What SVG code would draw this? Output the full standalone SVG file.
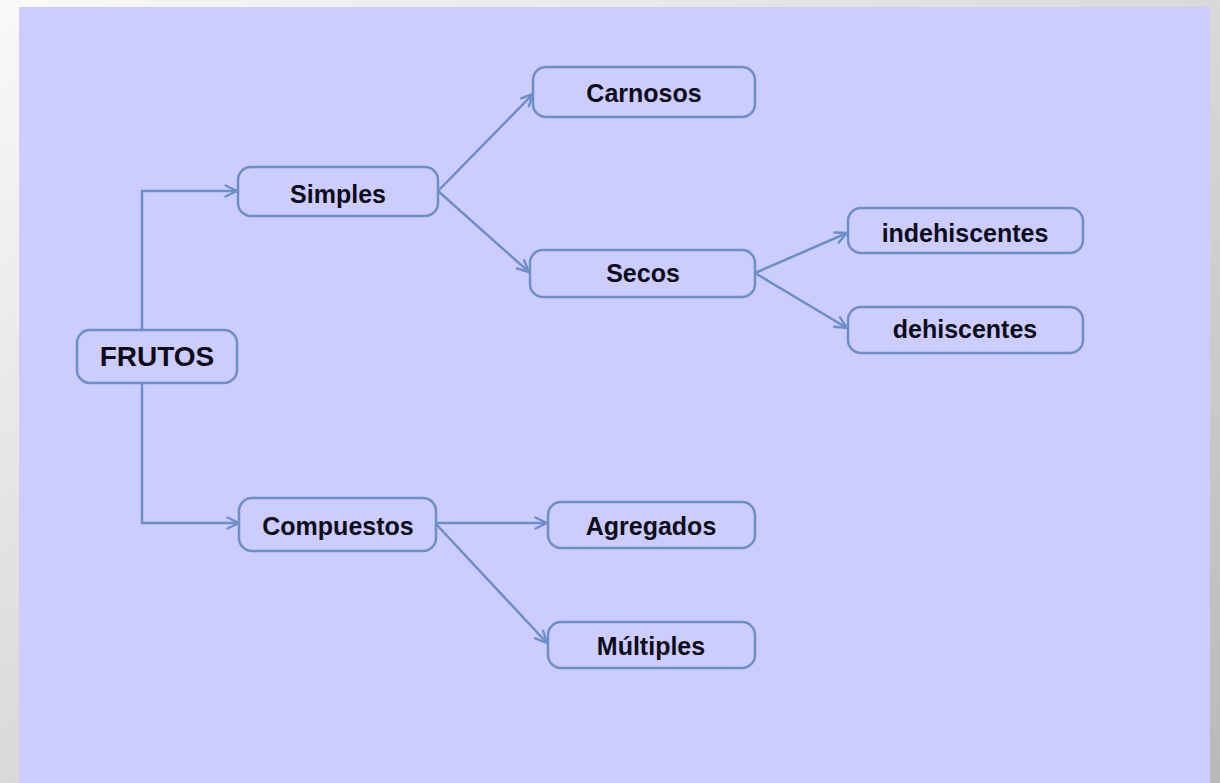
<svg xmlns="http://www.w3.org/2000/svg" width="1220" height="783" viewBox="0 0 1220 783">
  <defs>
    <linearGradient id="bg" x1="0" y1="0" x2="1" y2="1">
      <stop offset="0" stop-color="#f9f9f9"/>
      <stop offset="1" stop-color="#b9b9b9"/>
    </linearGradient>
    <marker id="arr" viewBox="0 0 14 14" refX="13" refY="7" markerWidth="14" markerHeight="14" markerUnits="userSpaceOnUse" orient="auto">
      <path d="M1.5,1.5 L13,7 L1.5,12.5" fill="none" stroke="#6c8fc8" stroke-width="2.4" stroke-linecap="round" stroke-linejoin="round"/>
    </marker>
    <style>
      .box { fill: #ccccff; stroke: #6c8fc8; stroke-width: 2.5; }
      .lbl { font-family: "Liberation Sans", Arial, sans-serif; font-weight: bold; font-size: 25px; fill: #0d0d1a; text-anchor: middle; }
      .big { font-size: 28px; }
      .con { fill: none; stroke: #6c8fc8; stroke-width: 2.5; marker-end: url(#arr); }
    </style>
  </defs>
  <rect x="0" y="0" width="1220" height="783" fill="url(#bg)"/>
  <rect x="19" y="7" width="1191" height="776" fill="#ccccff"/>

  <g id="connectors">
    <path class="con" d="M142,329 L142,191 L237,191"/>
    <path class="con" d="M142,383 L142,523 L239,523"/>
    <path class="con" d="M438,191 L533,94"/>
    <path class="con" d="M438,191 L529,272"/>
    <path class="con" d="M755,273 L847,233"/>
    <path class="con" d="M755,273 L847,328"/>
    <path class="con" d="M436,523 L547,523"/>
    <path class="con" d="M436,524 L547,643"/>
  </g>

  <g id="frutos">
    <rect class="box" x="77" y="330" width="160" height="53" rx="13"/>
    <text class="lbl big" x="157" y="366">FRUTOS</text>
  </g>
  <g id="simples">
    <rect class="box" x="238" y="167" width="200" height="49" rx="13"/>
    <text class="lbl" x="338" y="203">Simples</text>
  </g>
  <g id="carnosos">
    <rect class="box" x="533" y="67" width="222" height="50" rx="13"/>
    <text class="lbl" x="644" y="102">Carnosos</text>
  </g>
  <g id="secos">
    <rect class="box" x="530" y="250" width="225" height="47" rx="13"/>
    <text class="lbl" x="643" y="282">Secos</text>
  </g>
  <g id="indehiscentes">
    <rect class="box" x="848" y="208" width="235" height="45" rx="13"/>
    <text class="lbl" x="965" y="242">indehiscentes</text>
  </g>
  <g id="dehiscentes">
    <rect class="box" x="848" y="307" width="235" height="46" rx="13"/>
    <text class="lbl" x="965" y="338">dehiscentes</text>
  </g>
  <g id="compuestos">
    <rect class="box" x="239" y="498" width="197" height="53" rx="13"/>
    <text class="lbl" x="338" y="535">Compuestos</text>
  </g>
  <g id="agregados">
    <rect class="box" x="548" y="502" width="207" height="46" rx="13"/>
    <text class="lbl" x="651" y="535">Agregados</text>
  </g>
  <g id="multiples">
    <rect class="box" x="548" y="622" width="207" height="46" rx="13"/>
    <text class="lbl" x="651" y="655">Múltiples</text>
  </g>
</svg>
